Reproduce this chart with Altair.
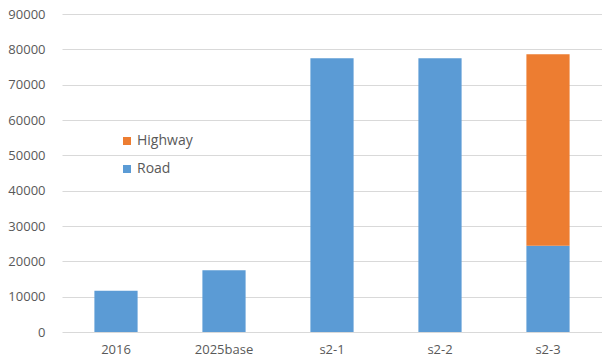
import altair as alt
import pandas as pd

categories = ["2016", "2025base", "s2-1", "s2-2", "s2-3"]
road = [11700, 17500, 77500, 77500, 24400]
highway = [0, 0, 0, 0, 54200]
series = ["Highway", "Road"]
colors = ["#ED7D31", "#5B9BD5"]

rows = []
for c, r, h in zip(categories, road, highway):
    rows.append({"cat": c, "series": "Road", "value": r, "ord": 0})
    if h > 0:
        rows.append({"cat": c, "series": "Highway", "value": h, "ord": 1})
df = pd.DataFrame(rows)

font = "Open Sans"
txt = "#595959"

chart = alt.Chart(df).mark_bar().encode(
    x=alt.X("cat:N", sort=categories, title=None,
            scale=alt.Scale(paddingInner=0.6, paddingOuter=0.3),
            axis=alt.Axis(labelAngle=0, ticks=False, domain=False,
                          labelFont=font, labelFontSize=13, labelColor=txt, labelPadding=11,
                          grid=False)),
    y=alt.Y("value:Q", stack="zero", title=None,
            scale=alt.Scale(domain=[0, 90000], nice=False),
            axis=alt.Axis(values=list(range(0, 90001, 10000)), format="d", ticks=False, domain=False,
                          labelFont=font, labelFontSize=13, labelColor=txt, labelPadding=17,
                          gridColor="#d9d9d9", gridWidth=1)),
    color=alt.Color("series:N", scale=alt.Scale(domain=series, range=colors),
                    legend=alt.Legend(title=None, orient="none", legendX=58, legendY=120,
                                      symbolType="square", symbolSize=64, symbolStrokeWidth=0,
                                      labelFont=font, labelFontSize=14, labelColor=txt,
                                      rowPadding=14, labelOffset=3)),
    order=alt.Order("ord:Q"),
).properties(
    width=540, height=318,
    autosize=alt.AutoSizeParams(type="none"),
    padding={"left": 62, "top": 14, "right": 0, "bottom": 32},
).configure(background="white").configure_view(strokeWidth=0, stroke="transparent").configure_axisX(grid=False, domain=False)

chart.save("out.html", embed_options={"renderer": "svg", "actions": False})
